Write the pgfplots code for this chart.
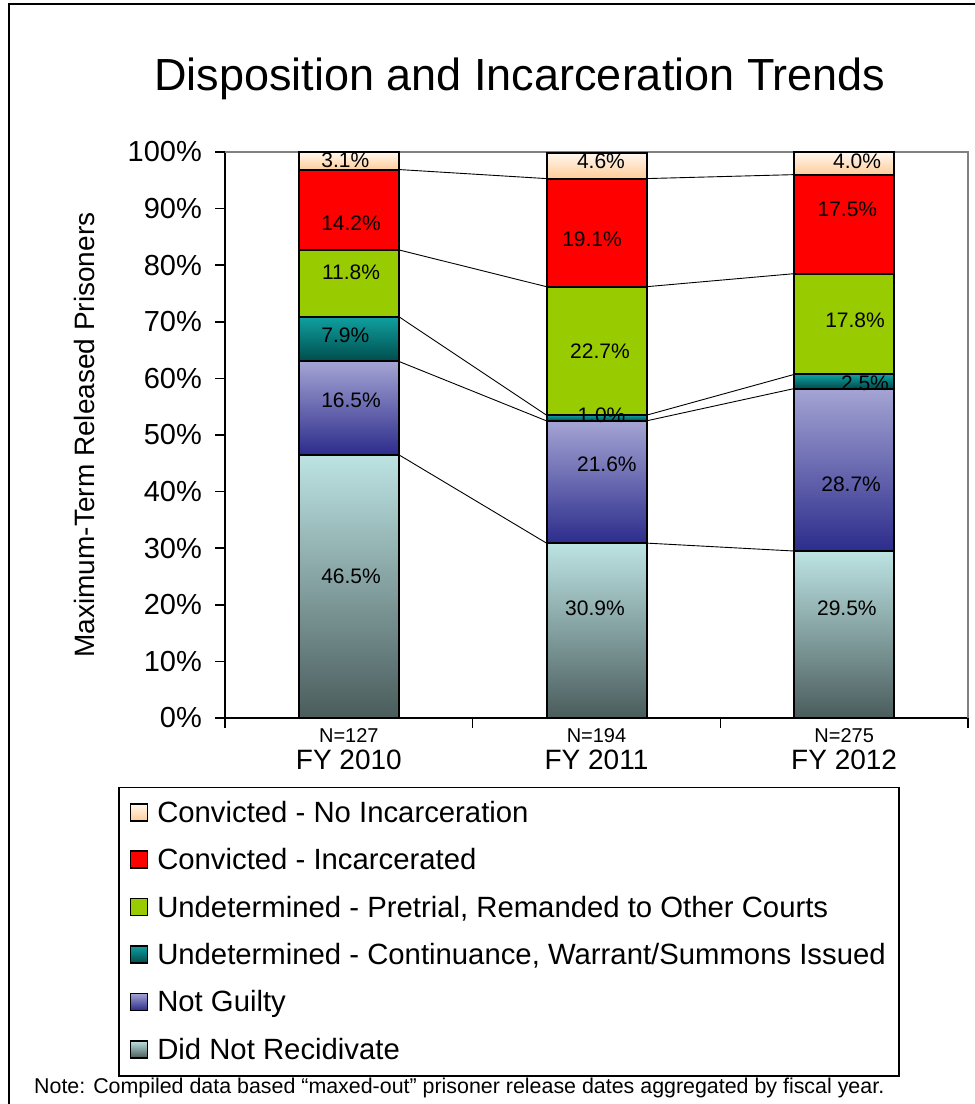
\documentclass[border=0pt]{standalone}
\usepackage{fontspec}
\setmainfont{Liberation Sans}
\usepackage{pgfplots}
\pgfplotsset{compat=1.18}
\definecolor{nrT}{HTML}{BDE3E3}
\definecolor{nrB}{HTML}{4A5C5C}
\definecolor{ngT}{HTML}{A4A4D4}
\definecolor{ngB}{HTML}{2C2C8C}
\definecolor{ctT}{HTML}{10A0A0}
\definecolor{ctB}{HTML}{004C4C}
\definecolor{ptC}{HTML}{99CC00}
\definecolor{inC}{HTML}{FF0000}
\definecolor{niT}{HTML}{FFF8F0}
\definecolor{niB}{HTML}{FFCC99}
\pgfplotsset{
  commonax/.style={width=743pt, height=566pt, scale only axis, at={(225pt,386pt)}, anchor=south west,
    xmin=-0.5, xmax=2.5, ymin=0, ymax=100, clip=false},
  legsq/.style={legend image code/.code={\draw[##1, line width=1.5pt] (0pt,-7.5pt) rectangle (17pt,9.5pt);}},
  barbase/.style={draw=black, line width=2pt, legsq},
  sNR/.style={barbase, top color=nrT, bottom color=nrB},
  sNG/.style={barbase, top color=ngT, bottom color=ngB},
  sCT/.style={barbase, top color=ctT, bottom color=ctB},
  sPT/.style={barbase, fill=ptC},
  sIN/.style={barbase, fill=inC},
  sNI/.style={barbase, top color=niT, bottom color=niB},
  conn/.style={black, line width=0.9pt, mark=none},
}
\begin{document}
\begin{tikzpicture}[x=1pt,y=1pt]
\useasboundingbox (0,0) rectangle (975,1104);
\draw[line width=2pt] (9,-5) -- (9,1100) -- (985,1100);
% Axis 1: decorations, FY 2010 bars, legend
\begin{axis}[commonax,
  ybar stacked, bar width=100pt,
  axis lines*=left,
  axis line style={black, line width=2pt},
  tick align=outside, major tick length=10pt,
  tick style={black, line width=1.5pt},
  ytick={0,10,20,30,40,50,60,70,80,90,100},
  yticklabels={0\%,10\%,20\%,30\%,40\%,50\%,60\%,70\%,80\%,90\%,100\%},
  yticklabel style={font=\fontsize{29}{29}\selectfont, inner sep=0pt, xshift=-13pt},
  xtick={-0.5,0.5,1.5,2.5},
  xticklabels={,,,},
  extra x ticks={0,1,2},
  extra x tick labels={{{\fontsize{20}{27}\selectfont N=127}\\FY 2010},{{\fontsize{20}{27}\selectfont N=194}\\FY 2011},{{\fontsize{20}{27}\selectfont N=275}\\FY 2012}},
  extra x tick style={major tick length=0pt},
  xticklabel style={align=center, inner sep=0pt, font=\fontsize{28}{27}\selectfont, yshift=-10pt},
  title={Disposition and Incarceration Trends},
  title style={font=\fontsize{45}{54}\selectfont, at={(axis description cs:0.397,1.0989)}, anchor=base},
  ylabel={Maximum-Term Released Prisoners},
  every axis y label/.style={at={(axis description cs:-0.176,0.5)}, rotate=90, anchor=base, font=\fontsize{28}{28}\selectfont},
  legend style={at={(axis description cs:-0.144,-0.1219)}, anchor=north west, draw=black, line width=1.5pt,
    font=\fontsize{29.3}{34}\selectfont, inner xsep=11pt, inner ysep=10pt, row sep=16.4pt, column sep=7pt,
    cells={anchor=west}, nodes={inner sep=2pt, text height=22.5pt, text depth=4.5pt}},
  legend cell align=left,
  reverse legend,
]
\addplot[sNR] coordinates {(0,46.5)};
\addlegendentry{Did Not Recidivate}
\addplot[sNG] coordinates {(0,16.5)};
\addlegendentry{Not Guilty}
\addplot[sCT] coordinates {(0,7.9)};
\addlegendentry{Undetermined - Continuance, Warrant/Summons Issued}
\addplot[sPT] coordinates {(0,11.8)};
\addlegendentry{Undetermined - Pretrial, Remanded to Other Courts}
\addplot[sIN] coordinates {(0,14.2)};
\addlegendentry{Convicted - Incarcerated}
\addplot[sNI] coordinates {(0,3.1)};
\addlegendentry{Convicted - No Incarceration}
\draw[gray, line width=1.5pt] (rel axis cs:0,1) -- (rel axis cs:1,1) -- (rel axis cs:1,0);
\end{axis}
% Axis 2: FY 2011
\begin{axis}[commonax, hide axis, ybar stacked, bar width=100pt]
\addplot[sNR] coordinates {(1,30.9)};
\addplot[sNG] coordinates {(1,21.6)};
\addplot[sCT] coordinates {(1,1.0)};
\addplot[sPT] coordinates {(1,22.7)};
\addplot[sIN] coordinates {(1,19.1)};
\addplot[sNI] coordinates {(1,4.6)};
\end{axis}
% Axis 3: FY 2012
\begin{axis}[commonax, hide axis, ybar stacked, bar width=100pt]
\addplot[sNR] coordinates {(2,29.5)};
\addplot[sNG] coordinates {(2,28.7)};
\addplot[sCT] coordinates {(2,2.5)};
\addplot[sPT] coordinates {(2,17.8)};
\addplot[sIN] coordinates {(2,17.5)};
\addplot[sNI] coordinates {(2,4.0)};
\end{axis}
% Axis 4: series lines and value labels
\begin{axis}[commonax, hide axis]
\addplot[conn] coordinates {(0.202,46.5) (0.798,30.9)};
\addplot[conn] coordinates {(0.202,63.0) (0.798,52.5)};
\addplot[conn] coordinates {(0.202,70.9) (0.798,53.5)};
\addplot[conn] coordinates {(0.202,82.7) (0.798,76.2)};
\addplot[conn] coordinates {(0.202,96.9) (0.798,95.3)};
\addplot[conn] coordinates {(1.202,30.9) (1.798,29.5)};
\addplot[conn] coordinates {(1.202,52.5) (1.798,58.2)};
\addplot[conn] coordinates {(1.202,53.5) (1.798,60.7)};
\addplot[conn] coordinates {(1.202,76.2) (1.798,78.5)};
\addplot[conn] coordinates {(1.202,95.3) (1.798,96.0)};
\addplot[draw=none, mark=none, point meta=explicit symbolic,
  nodes near coords={\pgfplotspointmeta\%},
  nodes near coords style={anchor=center, inner sep=0pt, font=\fontsize{21}{21}\selectfont, text=black}]
  table[meta=lab] {
x y lab
-0.014 98.6 3.1
0.009 87.4 14.2
0.009 78.8 11.8
-0.014 67.6 7.9
0.009 56.2 16.5
0.009 25.1 46.5
1.018 98.4 4.6
0.982 84.5 19.1
1.014 64.8 22.7
1.020 53.4 1.0
1.042 44.8 21.6
0.994 19.3 30.9
2.052 98.4 4.0
2.013 89.9 17.5
2.044 70.3 17.8
2.084 59.2 2.5
2.028 41.3 28.7
2.011 19.3 29.5
};
\end{axis}
\node[anchor=base west, inner sep=0pt, font=\fontsize{21.4}{22}\selectfont] at (34,10) {Note: Compiled data based “maxed-out” prisoner release dates aggregated by fiscal year.};
\end{tikzpicture}
\end{document}
